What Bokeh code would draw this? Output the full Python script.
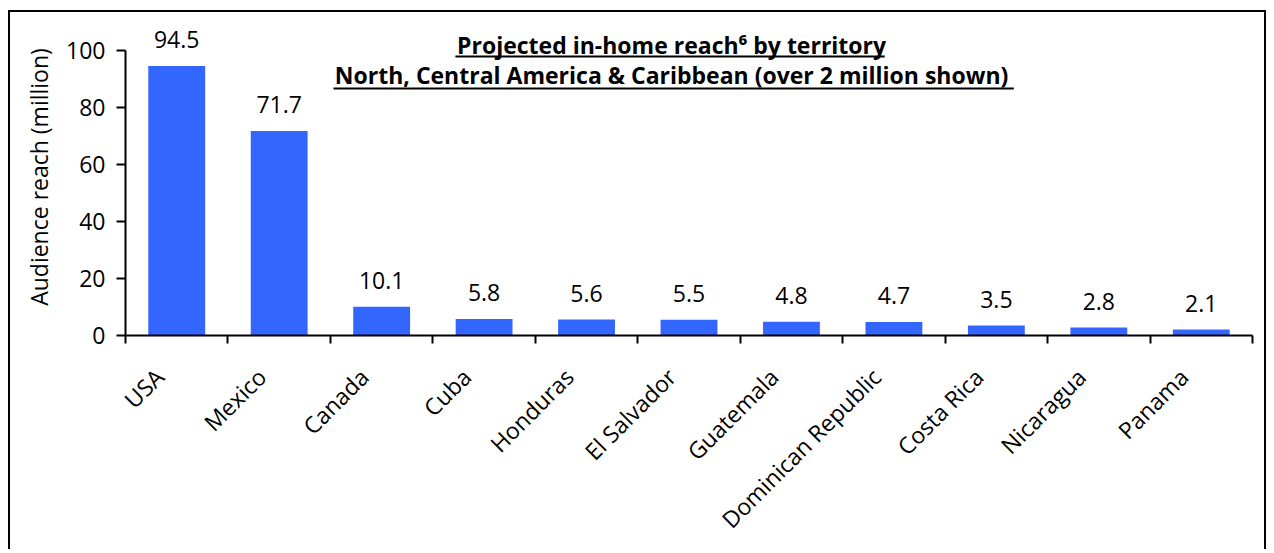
import math
from bokeh.plotting import figure
from bokeh.models import (ColumnDataSource, LabelSet, BoxAnnotation,
                          FixedTicker, Range1d)
from bokeh.core.properties import value
from bokeh.embed import file_html
from bokeh.resources import INLINE

# ---- data ----
countries = ["USA", "Mexico", "Canada", "Cuba", "Honduras", "El Salvador",
             "Guatemala", "Dominican Republic", "Costa Rica", "Nicaragua", "Panama"]
reach = [94.5, 71.7, 10.1, 5.8, 5.6, 5.5, 4.8, 4.7, 3.5, 2.8, 2.1]
y_ticks = [0, 20, 40, 60, 80, 100]
title_line1 = "Projected in-home reach\u2076 by territory"
title_line2 = "North, Central America & Caribbean (over 2 million shown)"
y_label = "Audience reach (million)"

FONT = "Open Sans"
BAR = "#3366FF"
FS = "23px"

positions = [i + 1 for i in range(len(countries))]
boundaries = [i + 0.5 for i in range(len(countries) + 1)]
label_ticks = [round(x - 0.17, 2) for x in positions]  # rotated label anchor shift

src = ColumnDataSource(dict(x=positions, top=reach,
                            lbl=["%.1f" % v for v in reach]))

p = figure(width=1258, height=539, output_backend="svg", toolbar_location=None,
           x_range=Range1d(0.5, len(countries) + 0.5),
           y_range=Range1d(0, 111.2),
           min_border_left=115, min_border_right=16,
           min_border_top=6, min_border_bottom=216,
           styles={"border-top": "2px solid black",
                   "border-left": "2px solid black",
                   "border-right": "2px solid black",
                   "margin-top": "10px",
                   "margin-left": "8px"})

p.outline_line_color = None
p.xgrid.grid_line_color = None
p.ygrid.grid_line_color = None
p.background_fill_color = "white"
p.border_fill_color = "white"

p.vbar(x="x", top="top", width=0.555, source=src, fill_color=BAR, line_color=None)

labels = LabelSet(x="x", y="top", text="lbl", source=src, y_offset=18,
                  text_align="center", text_baseline="alphabetic",
                  text_font=value(FONT), text_font_size=value(FS),
                  text_color="black")
p.add_layout(labels)

# y axis
ya = p.yaxis[0]
ya.ticker = FixedTicker(ticks=y_ticks)
ya.bounds = (0, 100)
ya.axis_line_width = 2
ya.axis_line_color = "black"
ya.major_tick_in = 0
ya.major_tick_out = 9
ya.major_tick_line_width = 2
ya.minor_tick_line_color = None
ya.major_label_text_font = FONT
ya.major_label_text_font_size = FS
ya.major_label_text_color = "black"
ya.major_label_standoff = 11
ya.axis_label = y_label
ya.axis_label_text_font = FONT
ya.axis_label_text_font_size = FS
ya.axis_label_text_font_style = "normal"
ya.axis_label_text_color = "black"
ya.axis_label_standoff = 8

# x axis
xa = p.xaxis[0]
xa.ticker = FixedTicker(ticks=label_ticks, minor_ticks=boundaries)
xa.major_label_overrides = {t: name for t, name in zip(label_ticks, countries)}
xa.axis_line_width = 2
xa.axis_line_color = "black"
xa.major_tick_in = 0
xa.major_tick_out = 0
xa.major_tick_line_color = None
xa.minor_tick_in = 0
xa.minor_tick_out = 8
xa.minor_tick_line_width = 2
xa.minor_tick_line_color = "black"
xa.major_label_orientation = math.pi / 4
xa.major_label_text_font = FONT
xa.major_label_text_font_size = FS
xa.major_label_text_color = "black"
xa.major_label_standoff = 29

# title (underlined, bold)
tsrc = ColumnDataSource(dict(x=[5.83, 5.83], y=[98.9, 88.1],
                             t=[title_line1, title_line2]))
titles = LabelSet(x="x", y="y", text="t", source=tsrc, text_align="center",
                  text_baseline="alphabetic", text_font=value(FONT),
                  text_font_size=value("23px"), text_font_style="bold",
                  text_color="black")
p.add_layout(titles)
u1 = BoxAnnotation(left=3.72, right=7.91, bottom=97.5, top=98.2,
                   fill_color="black", fill_alpha=1, line_alpha=0)
u2 = BoxAnnotation(left=2.53, right=9.17, bottom=86.3, top=87.0,
                   fill_color="black", fill_alpha=1, line_alpha=0)
p.add_layout(u1)
p.add_layout(u2)

open("out.html", "w").write(file_html(p, INLINE))
